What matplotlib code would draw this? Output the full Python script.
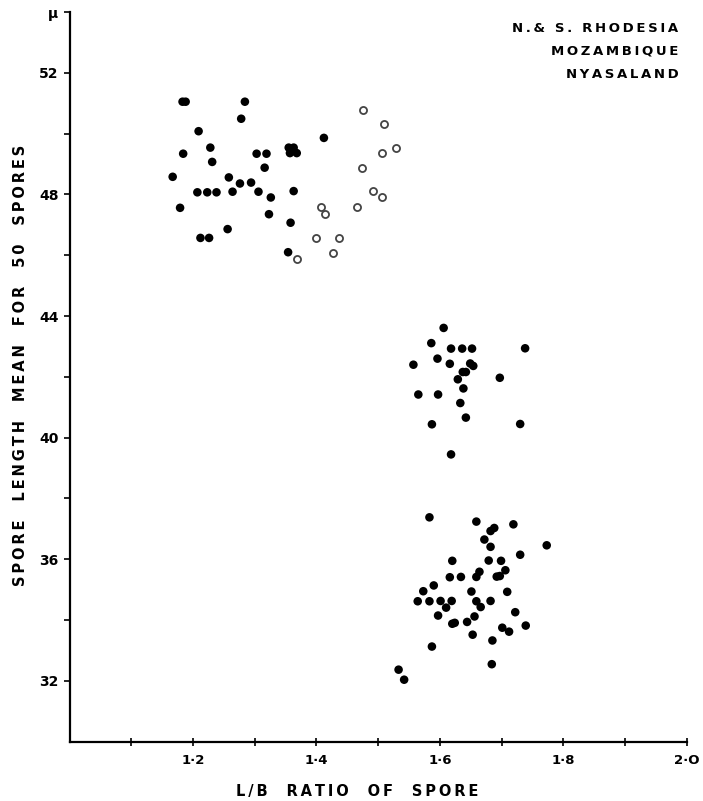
import matplotlib
matplotlib.use('Agg')
import matplotlib.pyplot as plt
import numpy as np

# upper cluster, filled dots
up_fill_x = [1.183, 1.188, 1.284, 1.278, 1.209, 1.228, 1.184, 1.231, 1.167, 1.258,
             1.276, 1.294, 1.207, 1.223, 1.238, 1.264, 1.306, 1.326, 1.179, 1.323,
             1.256, 1.212, 1.226, 1.358, 1.354, 1.303, 1.319, 1.316, 1.355, 1.363,
             1.357, 1.368, 1.362, 1.363, 1.412]
up_fill_y = [51.05, 51.05, 51.05, 50.49, 50.08, 49.54, 49.34, 49.07, 48.58, 48.56,
             48.36, 48.39, 48.07, 48.07, 48.07, 48.09, 48.09, 47.90, 47.56, 47.35,
             46.86, 46.57, 46.57, 47.07, 46.10, 49.34, 49.34, 48.88, 49.54, 49.54,
             49.36, 49.36, 49.44, 48.11, 49.86]

# upper cluster, open circles
up_open_x = [1.407, 1.413, 1.400, 1.437, 1.427, 1.368, 1.475, 1.509, 1.529, 1.506,
             1.473, 1.491, 1.506, 1.465]
up_open_y = [47.59, 47.36, 46.57, 46.58, 46.08, 45.88, 50.79, 50.33, 49.53, 49.35,
             48.86, 48.12, 47.90, 47.59]

# middle cluster
mid_x = [1.606, 1.586, 1.618, 1.636, 1.652, 1.738, 1.596, 1.557, 1.616, 1.649,
         1.654, 1.637, 1.642, 1.629, 1.697, 1.638, 1.565, 1.597, 1.633, 1.642,
         1.587, 1.730, 1.618]
mid_y = [43.61, 43.11, 42.93, 42.93, 42.93, 42.94, 42.60, 42.40, 42.43, 42.44,
         42.36, 42.16, 42.16, 41.92, 41.97, 41.62, 41.42, 41.42, 41.14, 40.66,
         40.44, 40.45, 39.45]

# lower cluster
low_x = [1.583, 1.659, 1.682, 1.688, 1.719, 1.773, 1.672, 1.682, 1.730, 1.620,
         1.679, 1.699, 1.706, 1.664, 1.659, 1.616, 1.634, 1.692, 1.697, 1.590,
         1.573, 1.651, 1.709, 1.564, 1.583, 1.601, 1.619, 1.610, 1.659, 1.666,
         1.682, 1.722, 1.597, 1.656, 1.620, 1.624, 1.644, 1.739, 1.701, 1.712,
         1.653, 1.685, 1.587, 1.684, 1.533, 1.542]
low_y = [37.38, 37.24, 36.93, 37.03, 37.15, 36.46, 36.65, 36.41, 36.15, 35.95,
         35.96, 35.95, 35.64, 35.59, 35.42, 35.41, 35.42, 35.43, 35.45, 35.14,
         34.95, 34.94, 34.93, 34.62, 34.62, 34.63, 34.63, 34.41, 34.62, 34.43,
         34.63, 34.26, 34.15, 34.12, 33.88, 33.91, 33.94, 33.82, 33.75, 33.62,
         33.52, 33.33, 33.13, 32.55, 32.37, 32.04]

x_ticks = [1.1, 1.2, 1.3, 1.4, 1.5, 1.6, 1.7, 1.8, 1.9, 2.0]
x_labels = ['', '1·2', '', '1·4', '', '1·6', '', '1·8', '', '2·O']
y_ticks = [32, 34, 36, 38, 40, 42, 44, 46, 48, 50, 52, 54]
y_labels = ['32', '', '36', '', '40', '', '44', '', '48', '', '52', 'μ']


def spaced(s, sep='\u2009'):
    return sep.join(s)


fig = plt.figure(figsize=(7.03, 8.01), dpi=100)
ax = fig.add_axes([0.099, 0.074, 0.878, 0.911])

fill_x = up_fill_x + mid_x + low_x
fill_y = up_fill_y + mid_y + low_y
ax.scatter(fill_x, fill_y, s=38, color='black', edgecolors='none', zorder=3)
ax.scatter(up_open_x, up_open_y, s=26, facecolors='white', edgecolors='#444444',
           linewidths=1.3, zorder=3)

ax.set_xlim(1.0, 2.0)
ax.set_ylim(30, 54)
ax.spines['top'].set_visible(False)
ax.spines['right'].set_visible(False)
ax.spines['left'].set_linewidth(1.6)
ax.spines['bottom'].set_linewidth(1.6)

ax.set_xticks(x_ticks)
ax.set_xticklabels(x_labels, fontsize=9.5, fontweight='bold')
ax.set_yticks(y_ticks)
ax.set_yticklabels(y_labels, fontsize=10, fontweight='bold')
ax.tick_params(axis='x', direction='inout', length=6, width=1.2, pad=6)
ax.tick_params(axis='y', direction='out', length=4, width=1.2, pad=4)

ax.set_xlabel(spaced('L/B  RATIO  OF  SPORE'), fontsize=10.5, fontweight='bold',
              labelpad=12)
ax.xaxis.label.set_x(0.466)
ax.set_ylabel(spaced('SPORE  LENGTH  MEAN  FOR  50  SPORES'), fontsize=10.5,
              fontweight='bold', labelpad=8)
ax.yaxis.label.set_y(0.516)

fig.text(0.965, 0.973, spaced('N.& S. RHODESIA') + '\n' + spaced('MOZAMBIQUE') + '\n'
         + spaced('NYASALAND'), ha='right', va='top', fontsize=9.5,
         fontweight='bold', linespacing=2.0, multialignment='right')

fig.savefig('out.png', dpi=100)
